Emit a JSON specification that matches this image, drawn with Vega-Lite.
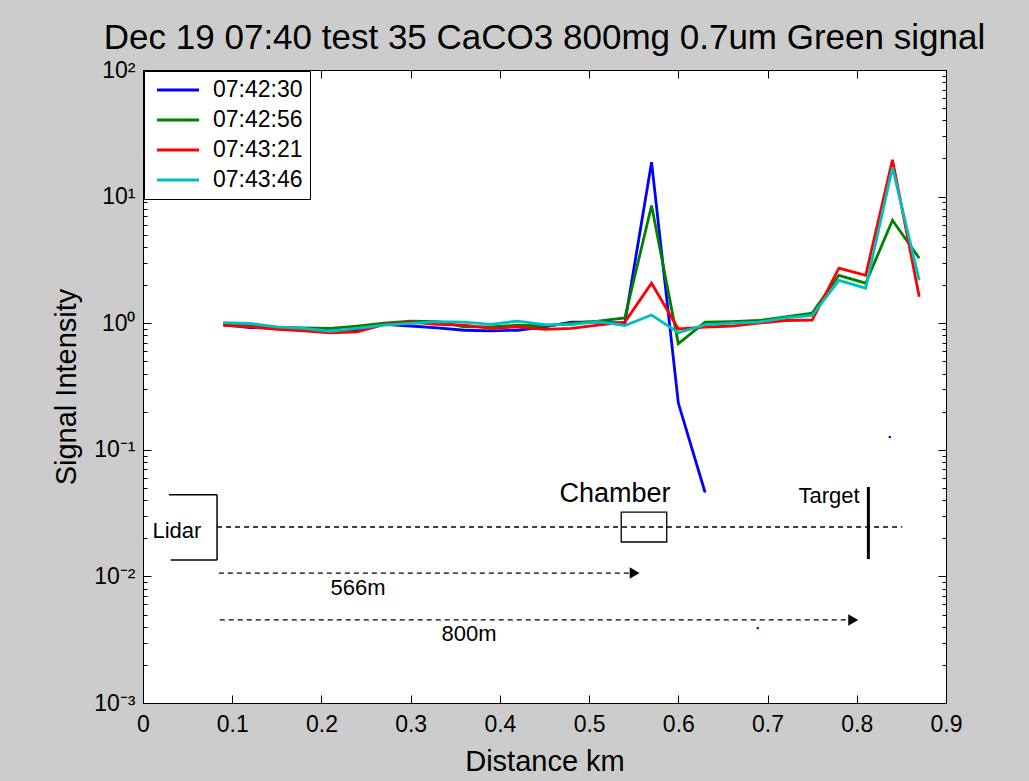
{
  "$schema": "https://vega.github.io/schema/vega-lite/v6.json",
  "autosize": "none",
  "width": 803,
  "height": 633,
  "padding": {"left": 143, "top": 70, "right": 83, "bottom": 78},
  "background": "#cccccc",
  "config": {
    "view": {"stroke": "black", "strokeWidth": 1, "fill": "white"},
    "font": "Liberation Sans",
    "axis": {"labelFont": "Liberation Sans", "titleFont": "Liberation Sans", "labelColor": "black", "titleColor": "black", "tickColor": "black", "domain": false, "grid": false, "titleFontWeight": "normal"}
  },
  "title": {"text": "Dec 19 07:40 test 35 CaCO3 800mg 0.7um Green signal", "fontSize": 35, "font": "Liberation Sans", "fontWeight": "normal", "color": "black", "anchor": "middle", "offset": 3},
  "datasets": {
    "series": [
      {"d": 0.09, "v": 0.976, "s": "07:42:30"},
      {"d": 0.12, "v": 0.925, "s": "07:42:30"},
      {"d": 0.15, "v": 0.92, "s": "07:42:30"},
      {"d": 0.18, "v": 0.91, "s": "07:42:30"},
      {"d": 0.21, "v": 0.864, "s": "07:42:30"},
      {"d": 0.24, "v": 0.88, "s": "07:42:30"},
      {"d": 0.27, "v": 0.98, "s": "07:42:30"},
      {"d": 0.30, "v": 0.95, "s": "07:42:30"},
      {"d": 0.33, "v": 0.92, "s": "07:42:30"},
      {"d": 0.36, "v": 0.88, "s": "07:42:30"},
      {"d": 0.39, "v": 0.87, "s": "07:42:30"},
      {"d": 0.42, "v": 0.88, "s": "07:42:30"},
      {"d": 0.45, "v": 0.935, "s": "07:42:30"},
      {"d": 0.48, "v": 1.02, "s": "07:42:30"},
      {"d": 0.51, "v": 1.02, "s": "07:42:30"},
      {"d": 0.54, "v": 1.0, "s": "07:42:30"},
      {"d": 0.57, "v": 18.7, "s": "07:42:30"},
      {"d": 0.60, "v": 0.234, "s": "07:42:30"},
      {"d": 0.63, "v": 0.046, "s": "07:42:30"},
      {"d": 0.09, "v": 0.995, "s": "07:42:56"},
      {"d": 0.12, "v": 0.976, "s": "07:42:56"},
      {"d": 0.15, "v": 0.925, "s": "07:42:56"},
      {"d": 0.18, "v": 0.92, "s": "07:42:56"},
      {"d": 0.21, "v": 0.91, "s": "07:42:56"},
      {"d": 0.24, "v": 0.95, "s": "07:42:56"},
      {"d": 0.27, "v": 1.0, "s": "07:42:56"},
      {"d": 0.30, "v": 1.04, "s": "07:42:56"},
      {"d": 0.33, "v": 1.03, "s": "07:42:56"},
      {"d": 0.36, "v": 0.935, "s": "07:42:56"},
      {"d": 0.39, "v": 0.935, "s": "07:42:56"},
      {"d": 0.42, "v": 0.965, "s": "07:42:56"},
      {"d": 0.45, "v": 0.95, "s": "07:42:56"},
      {"d": 0.48, "v": 1.0, "s": "07:42:56"},
      {"d": 0.51, "v": 1.04, "s": "07:42:56"},
      {"d": 0.54, "v": 1.1, "s": "07:42:56"},
      {"d": 0.57, "v": 8.5, "s": "07:42:56"},
      {"d": 0.60, "v": 0.69, "s": "07:42:56"},
      {"d": 0.63, "v": 1.02, "s": "07:42:56"},
      {"d": 0.66, "v": 1.03, "s": "07:42:56"},
      {"d": 0.69, "v": 1.05, "s": "07:42:56"},
      {"d": 0.72, "v": 1.12, "s": "07:42:56"},
      {"d": 0.75, "v": 1.2, "s": "07:42:56"},
      {"d": 0.78, "v": 2.39, "s": "07:42:56"},
      {"d": 0.81, "v": 2.07, "s": "07:42:56"},
      {"d": 0.84, "v": 6.5, "s": "07:42:56"},
      {"d": 0.87, "v": 3.26, "s": "07:42:56"},
      {"d": 0.09, "v": 0.96, "s": "07:43:21"},
      {"d": 0.12, "v": 0.935, "s": "07:43:21"},
      {"d": 0.15, "v": 0.895, "s": "07:43:21"},
      {"d": 0.18, "v": 0.87, "s": "07:43:21"},
      {"d": 0.21, "v": 0.84, "s": "07:43:21"},
      {"d": 0.24, "v": 0.855, "s": "07:43:21"},
      {"d": 0.27, "v": 0.976, "s": "07:43:21"},
      {"d": 0.30, "v": 1.02, "s": "07:43:21"},
      {"d": 0.33, "v": 0.98, "s": "07:43:21"},
      {"d": 0.36, "v": 0.965, "s": "07:43:21"},
      {"d": 0.39, "v": 0.91, "s": "07:43:21"},
      {"d": 0.42, "v": 0.935, "s": "07:43:21"},
      {"d": 0.45, "v": 0.895, "s": "07:43:21"},
      {"d": 0.48, "v": 0.91, "s": "07:43:21"},
      {"d": 0.51, "v": 0.965, "s": "07:43:21"},
      {"d": 0.54, "v": 1.02, "s": "07:43:21"},
      {"d": 0.57, "v": 2.07, "s": "07:43:21"},
      {"d": 0.60, "v": 0.9, "s": "07:43:21"},
      {"d": 0.63, "v": 0.93, "s": "07:43:21"},
      {"d": 0.66, "v": 0.95, "s": "07:43:21"},
      {"d": 0.69, "v": 1.0, "s": "07:43:21"},
      {"d": 0.72, "v": 1.05, "s": "07:43:21"},
      {"d": 0.75, "v": 1.06, "s": "07:43:21"},
      {"d": 0.78, "v": 2.72, "s": "07:43:21"},
      {"d": 0.81, "v": 2.39, "s": "07:43:21"},
      {"d": 0.84, "v": 19.5, "s": "07:43:21"},
      {"d": 0.87, "v": 1.62, "s": "07:43:21"},
      {"d": 0.09, "v": 1.01, "s": "07:43:46"},
      {"d": 0.12, "v": 0.995, "s": "07:43:46"},
      {"d": 0.15, "v": 0.935, "s": "07:43:46"},
      {"d": 0.18, "v": 0.91, "s": "07:43:46"},
      {"d": 0.21, "v": 0.864, "s": "07:43:46"},
      {"d": 0.24, "v": 0.91, "s": "07:43:46"},
      {"d": 0.27, "v": 0.965, "s": "07:43:46"},
      {"d": 0.30, "v": 0.995, "s": "07:43:46"},
      {"d": 0.33, "v": 1.03, "s": "07:43:46"},
      {"d": 0.36, "v": 1.02, "s": "07:43:46"},
      {"d": 0.39, "v": 0.98, "s": "07:43:46"},
      {"d": 0.42, "v": 1.04, "s": "07:43:46"},
      {"d": 0.45, "v": 0.976, "s": "07:43:46"},
      {"d": 0.48, "v": 0.976, "s": "07:43:46"},
      {"d": 0.51, "v": 1.03, "s": "07:43:46"},
      {"d": 0.54, "v": 0.96, "s": "07:43:46"},
      {"d": 0.57, "v": 1.16, "s": "07:43:46"},
      {"d": 0.60, "v": 0.84, "s": "07:43:46"},
      {"d": 0.63, "v": 0.97, "s": "07:43:46"},
      {"d": 0.66, "v": 1.0, "s": "07:43:46"},
      {"d": 0.69, "v": 1.02, "s": "07:43:46"},
      {"d": 0.72, "v": 1.1, "s": "07:43:46"},
      {"d": 0.75, "v": 1.15, "s": "07:43:46"},
      {"d": 0.78, "v": 2.18, "s": "07:43:46"},
      {"d": 0.81, "v": 1.89, "s": "07:43:46"},
      {"d": 0.84, "v": 17, "s": "07:43:46"},
      {"d": 0.87, "v": 2.18, "s": "07:43:46"}
    ]
  },
  "resolve": {"axis": {"x": "independent", "y": "independent"}},
  "layer": [
    {
      "data": {"name": "series"},
      "mark": {"type": "line", "strokeWidth": 2.8},
      "encoding": {
        "x": {"field": "d", "type": "quantitative", "scale": {"domain": [0, 0.9], "nice": false, "zero": false},
          "axis": {"orient": "bottom", "values": [0, 0.1, 0.2, 0.3, 0.4, 0.5, 0.6, 0.7, 0.8, 0.9], "format": ".1~f", "tickSize": -8, "labelFontSize": 23, "labelPadding": 18, "labelFlush": false, "labelOverlap": false, "title": "Distance km", "titleFontSize": 29, "titlePadding": 11}},
        "y": {"field": "v", "type": "quantitative", "scale": {"type": "log", "domain": [0.001, 100], "nice": false},
          "axis": {"orient": "left",
            "values": [0.001, 0.002, 0.003, 0.004, 0.005, 0.006, 0.007, 0.008, 0.009, 0.01, 0.02, 0.03, 0.04, 0.05, 0.06, 0.07, 0.08, 0.09, 0.1, 0.2, 0.3, 0.4, 0.5, 0.6, 0.7, 0.8, 0.9, 1, 2, 3, 4, 5, 6, 7, 8, 9, 10, 20, 30, 40, 50, 60, 70, 80, 90, 100],
            "labelExpr": "datum.value==100?'10²':datum.value==10?'10¹':datum.value==1?'10⁰':datum.value==0.1?'10⁻¹':datum.value==0.01?'10⁻²':datum.value==0.001?'10⁻³':''",
            "tickSize": {"condition": {"test": "indexof([0.001,0.01,0.1,1,10,100], datum.value) >= 0", "value": -8}, "value": -4},
            "labelFontSize": 23, "labelPadding": 16, "labelFlush": false, "labelOverlap": false, "labelBaseline": "middle",
            "title": "Signal Intensity", "titleFontSize": 29, "titlePadding": 12}},
        "color": {"field": "s", "type": "nominal",
          "scale": {"domain": ["07:42:30", "07:42:56", "07:43:21", "07:43:46"], "range": ["#0000ff", "#008000", "#ff0000", "#00bfbf"]},
          "legend": {"title": null, "orient": "none", "legendX": 1, "legendY": 1, "symbolType": "M-2,0H2", "symbolSize": 441, "symbolStrokeWidth": 3, "symbolOffset": 15, "labelFontSize": 23, "labelFont": "Liberation Sans", "labelColor": "black", "labelOffset": 23, "padding": 7, "rowPadding": 6, "strokeColor": "black", "fillColor": "white", "labelExpr": "datum.label + '\u2003\u2002\u2009'"}}
      }
    },
    {
      "data": {"values": [{"d": 0, "v": 1}]},
      "mark": {"type": "point", "opacity": 0},
      "encoding": {
        "x": {"field": "d", "type": "quantitative", "axis": {"orient": "top", "values": [0, 0.1, 0.2, 0.3, 0.4, 0.5, 0.6, 0.7, 0.8, 0.9], "labels": false, "tickSize": -8, "title": null}},
        "y": {"field": "v", "type": "quantitative", "axis": {"orient": "right",
            "values": [0.001, 0.002, 0.003, 0.004, 0.005, 0.006, 0.007, 0.008, 0.009, 0.01, 0.02, 0.03, 0.04, 0.05, 0.06, 0.07, 0.08, 0.09, 0.1, 0.2, 0.3, 0.4, 0.5, 0.6, 0.7, 0.8, 0.9, 1, 2, 3, 4, 5, 6, 7, 8, 9, 10, 20, 30, 40, 50, 60, 70, 80, 90, 100],
            "labels": false, "title": null,
            "tickSize": {"condition": {"test": "indexof([0.001,0.01,0.1,1,10,100], datum.value) >= 0", "value": -8}, "value": -4}}}
      }
    },
    {
      "data": {"values": [{"d": 0.837, "v": 0.126}, {"d": 0.689, "v": 0.0039}]},
      "mark": {"type": "square", "size": 5, "color": "#0000ff", "opacity": 1},
      "encoding": {
        "x": {"field": "d", "type": "quantitative", "axis": null},
        "y": {"field": "v", "type": "quantitative", "axis": null}
      }
    },
    {
      "data": {"values": [
        {"a": 0.083, "b": 0.851, "v": 0.02455},
        {"a": 0.085, "b": 0.545, "v": 0.01063},
        {"a": 0.086, "b": 0.789, "v": 0.00453}
      ]},
      "mark": {"type": "rule", "color": "black", "strokeWidth": 1.3, "strokeDash": [5, 4]},
      "encoding": {
        "x": {"field": "a", "type": "quantitative", "axis": null},
        "x2": {"field": "b"},
        "y": {"field": "v", "type": "quantitative", "axis": null}
      }
    },
    {
      "data": {"values": [
        {"a": 0.029, "b": 0.083, "v": 0.0442, "w": 0.0442},
        {"a": 0.083, "b": 0.083, "v": 0.0442, "w": 0.0135},
        {"a": 0.031, "b": 0.083, "v": 0.0135, "w": 0.0135}
      ]},
      "mark": {"type": "rule", "color": "black", "strokeWidth": 1.5},
      "encoding": {
        "x": {"field": "a", "type": "quantitative", "axis": null},
        "x2": {"field": "b"},
        "y": {"field": "v", "type": "quantitative", "axis": null},
        "y2": {"field": "w"}
      }
    },
    {
      "data": {"values": [{"a": 0.813, "v": 0.0508, "w": 0.0137}]},
      "mark": {"type": "rule", "color": "black", "strokeWidth": 3},
      "encoding": {
        "x": {"field": "a", "type": "quantitative", "axis": null},
        "y": {"field": "v", "type": "quantitative", "axis": null},
        "y2": {"field": "w"}
      }
    },
    {
      "data": {"values": [{"a": 0.536, "b": 0.587, "v": 0.0322, "w": 0.0187}]},
      "mark": {"type": "rect", "fill": null, "fillOpacity": 0, "stroke": "black", "strokeWidth": 1.3},
      "encoding": {
        "x": {"field": "a", "type": "quantitative", "axis": null},
        "x2": {"field": "b"},
        "y": {"field": "v", "type": "quantitative", "axis": null},
        "y2": {"field": "w"}
      }
    },
    {
      "data": {"values": [{"a": 0.551, "v": 0.01063}, {"a": 0.796, "v": 0.00453}]},
      "mark": {"type": "point", "shape": "triangle-right", "filled": true, "color": "black", "opacity": 1, "size": 130},
      "encoding": {
        "x": {"field": "a", "type": "quantitative", "axis": null},
        "y": {"field": "v", "type": "quantitative", "axis": null}
      }
    },
    {
      "data": {"values": [
        {"a": 0.038, "v": 0.0228, "t": "Lidar"},
        {"a": 0.769, "v": 0.0431, "t": "Target"},
        {"a": 0.241, "v": 0.0081, "t": "566m"},
        {"a": 0.3655, "v": 0.00351, "t": "800m"}
      ]},
      "mark": {"type": "text", "fontSize": 22, "font": "Liberation Sans", "color": "black", "align": "center", "baseline": "middle"},
      "encoding": {
        "x": {"field": "a", "type": "quantitative", "axis": null},
        "y": {"field": "v", "type": "quantitative", "axis": null},
        "text": {"field": "t"}
      }
    },
    {
      "data": {"values": [{"a": 0.529, "v": 0.0447, "t": "Chamber"}]},
      "mark": {"type": "text", "fontSize": 27, "font": "Liberation Sans", "color": "black", "align": "center", "baseline": "middle"},
      "encoding": {
        "x": {"field": "a", "type": "quantitative", "axis": null},
        "y": {"field": "v", "type": "quantitative", "axis": null},
        "text": {"field": "t"}
      }
    }
  ]
}
